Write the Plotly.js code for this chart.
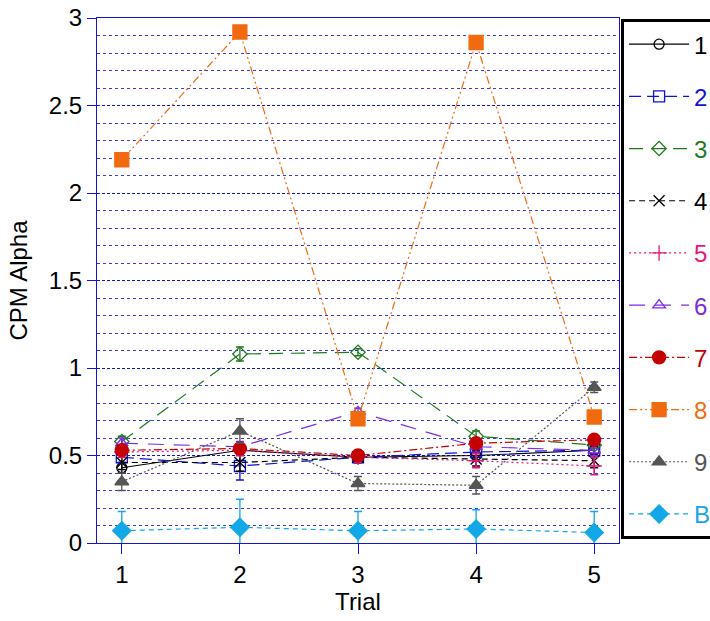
<!DOCTYPE html>
<html>
<head>
<meta charset="utf-8">
<script src="https://cdn.plot.ly/plotly-3.0.1.min.js"></script>
<style>html,body{margin:0;padding:0;background:#fff}#chart{width:710px;height:621px}</style>
</head>
<body>
<div id="chart"></div>
<script>
const trials = [1, 2, 3, 4, 5];
const seriesNames = ['1', '2', '3', '4', '5', '6', '7', '8', '9', 'B'];
const s1 = [0.43, 0.53, 0.49, 0.50, 0.53];
const e1 = [0.03, 0.03, 0.03, 0.03, 0.02];
const s2 = [0.49, 0.44, 0.49, 0.52, 0.53];
const e2 = [0.03, 0.08, 0.03, 0.03, 0.03];
const s3 = [0.58, 1.08, 1.09, 0.61, 0.56];
const e3 = [0.03, 0.04, 0.02, 0.03, 0.02];
const s4 = [0.46, 0.46, 0.49, 0.48, 0.47];
const e4 = [0.04, 0.05, 0.03, 0.04, 0.04];
const s5 = [0.52, 0.53, 0.49, 0.47, 0.44];
const e5 = [0.03, 0.03, 0.03, 0.04, 0.05];
const s6 = [0.57, 0.55, 0.75, 0.55, 0.53];
const e6 = [0.03, 0.03, 0.02, 0.03, 0.03];
const s7 = [0.53, 0.54, 0.50, 0.57, 0.59];
const e7 = [0.02, 0.02, 0.03, 0.02, 0.02];
const s8 = [2.19, 2.92, 0.71, 2.86, 0.72];
const e8 = [0.01, 0.02, 0.02, 0.02, 0.02];
const s9 = [0.35, 0.64, 0.34, 0.33, 0.89];
const e9 = [0.05, 0.07, 0.04, 0.05, 0.03];
const sB = [0.07, 0.09, 0.07, 0.08, 0.06];
const eB = [0.11, 0.16, 0.11, 0.11, 0.12];

const values = [s1, s2, s3, s4, s5, s6, s7, s8, s9, sB];
const errors = [e1, e2, e3, e4, e5, e6, e7, e8, e9, eB];
const colors = ['#000000', '#1010d8', '#1e7a1e', '#000000', '#e8157a', '#7a2de0', '#c40000', '#f26a10', '#555555', '#12a8e8'];
const dashes = ['solid', '12px,6px', '14px,8px', '6px,4px', '2px,3px', '16px,10px', '8px,3px,2px,3px', '8px,3px,2px,3px,2px,3px', '2px,2px', '5px,4px'];
const symbols = ['circle-open', 'square-open', 'diamond-open', 'x-thin-open', 'cross-thin-open', 'triangle-up-open', 'circle', 'square', 'triangle-up', 'diamond'];
const sizes = [10, 11, 11, 11, 11, 11, 13, 14, 12, 14];

const traces = values.map((v, i) => ({
  x: trials,
  y: v,
  type: 'scatter',
  mode: 'lines+markers',
  name: '<span style="color:' + colors[i] + '">' + seriesNames[i] + '</span>&nbsp;&nbsp;&nbsp;&nbsp;',
  legendgroup: 'g' + i,
  line: {color: colors[i], width: 1.2, dash: dashes[i]},
  marker: {symbol: symbols[i], size: sizes[i], color: colors[i], line: {color: colors[i], width: 1.3}},
  error_y: {type: 'data', array: errors[i], visible: true, color: colors[i], thickness: 1.3, width: 4},
  cliponaxis: true
}));

const layout = {
  width: 710, height: 621,
  margin: {l: 97, r: 91, t: 18, b: 78, autoexpand: false},
  paper_bgcolor: '#ffffff', plot_bgcolor: '#ffffff',
  font: {family: 'Liberation Sans, Arial, sans-serif', size: 24, color: '#000'},
  showlegend: true,
  legend: {
    x: 1.004, y: 0.998, xanchor: 'left', yanchor: 'top',
    bordercolor: '#000', borderwidth: 3, bgcolor: '#fff',
    font: {size: 24}, tracegroupgap: 18, traceorder: 'grouped', itemwidth: 60
  },
  xaxis: {
    range: [0.79, 5.21], tickvals: trials, ticktext: trials.map(String),
    ticks: 'outside', ticklen: 10, tickcolor: '#1515d0', tickwidth: 1,
    showline: true, linecolor: '#1515d0', linewidth: 1, mirror: true,
    showgrid: false, zeroline: false, ticklabelstandoff: 0,
    tickfont: {size: 24},
    title: {text: 'Trial', font: {size: 24}, standoff: 6}
  },
  yaxis: {
    range: [0, 3], tick0: 0, dtick: 0.5,
    ticks: 'outside', ticklen: 9, tickcolor: '#1515d0', tickwidth: 1,
    showline: true, linecolor: '#1515d0', linewidth: 1, mirror: true,
    showgrid: true, gridcolor: '#1515d0', gridwidth: 1, griddash: '3px,2px',
    zeroline: false,
    minor: {dtick: 0.1, showgrid: true, gridcolor: '#3a3ae0', gridwidth: 1, griddash: '3px,3px', ticks: ''},
    tickfont: {size: 24},
    title: {text: 'CPM Alpha', font: {size: 24}, standoff: 14}
  }
};

Plotly.newPlot('chart', traces, layout, {displayModeBar: false, staticPlot: true});
</script>
</body>
</html>
